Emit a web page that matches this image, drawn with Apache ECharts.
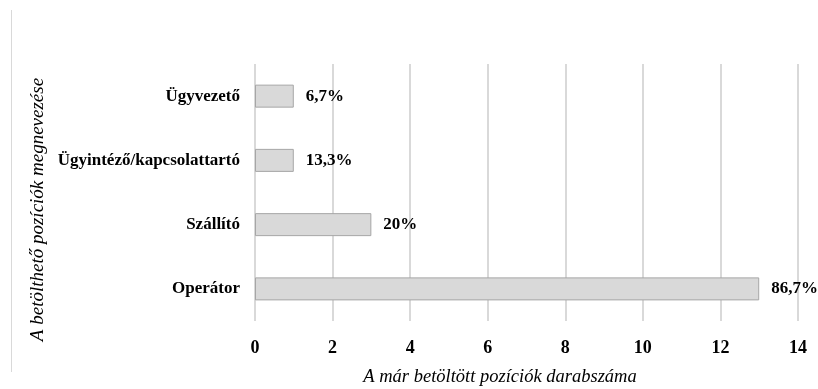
<!DOCTYPE html>
<html>
<head>
<meta charset="utf-8">
<script src="https://cdn.jsdelivr.net/npm/echarts@6/dist/echarts.min.js"></script>
<style>
  html, body { margin: 0; padding: 0; background: #fff; }
  #chart { width: 818px; height: 389px; }
</style>
</head>
<body>
<div id="chart"></div>
<script>
// Positions (bottom to top) and how many of each have been filled
const categories = ['Operátor', 'Szállító', 'Ügyintéző/kapcsolattartó', 'Ügyvezető'];
const counts = [13, 3, 1, 1];
const shareLabels = ['86,7%', '20%', '13,3%', '6,7%'];
const xTicks = [0, 2, 4, 6, 8, 10, 12, 14];
const xTitle = 'A már betöltött pozíciók darabszáma';
const yTitle = 'A betölthető pozíciók megnevezése';

const serif = '"Liberation Serif", "Times New Roman", serif';

const chart = echarts.init(document.getElementById('chart'));
chart.setOption({
  animation: false,
  backgroundColor: '#ffffff',
  grid: { left: 255, right: 20, top: 64, bottom: 68, containLabel: false, outerBoundsMode: 'none' },
  graphic: [
    {
      type: 'line',
      shape: { x1: 11.5, y1: 10, x2: 11.5, y2: 372 },
      style: { stroke: '#d9d9d9', lineWidth: 1 }
    },
    {
      type: 'text',
      x: 500, y: 377,
      style: {
        text: xTitle, fill: '#000', align: 'center', verticalAlign: 'middle',
        font: 'italic 18.5px ' + serif
      }
    },
    {
      type: 'text',
      x: 38, y: 209.5,
      rotation: Math.PI / 2,
      style: {
        text: yTitle, fill: '#000', align: 'center', verticalAlign: 'middle',
        font: 'italic 19px ' + serif
      }
    }
  ],
  xAxis: {
    type: 'value',
    min: xTicks[0],
    max: xTicks[xTicks.length - 1],
    interval: 2,
    axisLine: { show: false },
    axisTick: { show: false },
    axisLabel: { fontFamily: serif, fontWeight: 'bold', fontSize: 18, color: '#000', margin: 18 },
    splitLine: { show: true, lineStyle: { color: '#d9d9d9', width: 2 } }
  },
  yAxis: {
    type: 'category',
    data: categories,
    axisLine: { show: false },
    axisTick: { show: false },
    axisLabel: { fontFamily: serif, fontWeight: 'bold', fontSize: 17, color: '#000', margin: 15 },
    splitLine: { show: false }
  },
  series: [{
    type: 'bar',
    data: counts,
    barWidth: 23,
    itemStyle: { color: '#d9d9d9', borderColor: '#a6a6a6', borderWidth: 1 },
    label: {
      show: true,
      position: 'right',
      distance: 12,
      fontFamily: serif,
      fontWeight: 'bold',
      fontSize: 17,
      color: '#000',
      formatter: p => shareLabels[p.dataIndex]
    }
  }]
});
</script>
</body>
</html>
